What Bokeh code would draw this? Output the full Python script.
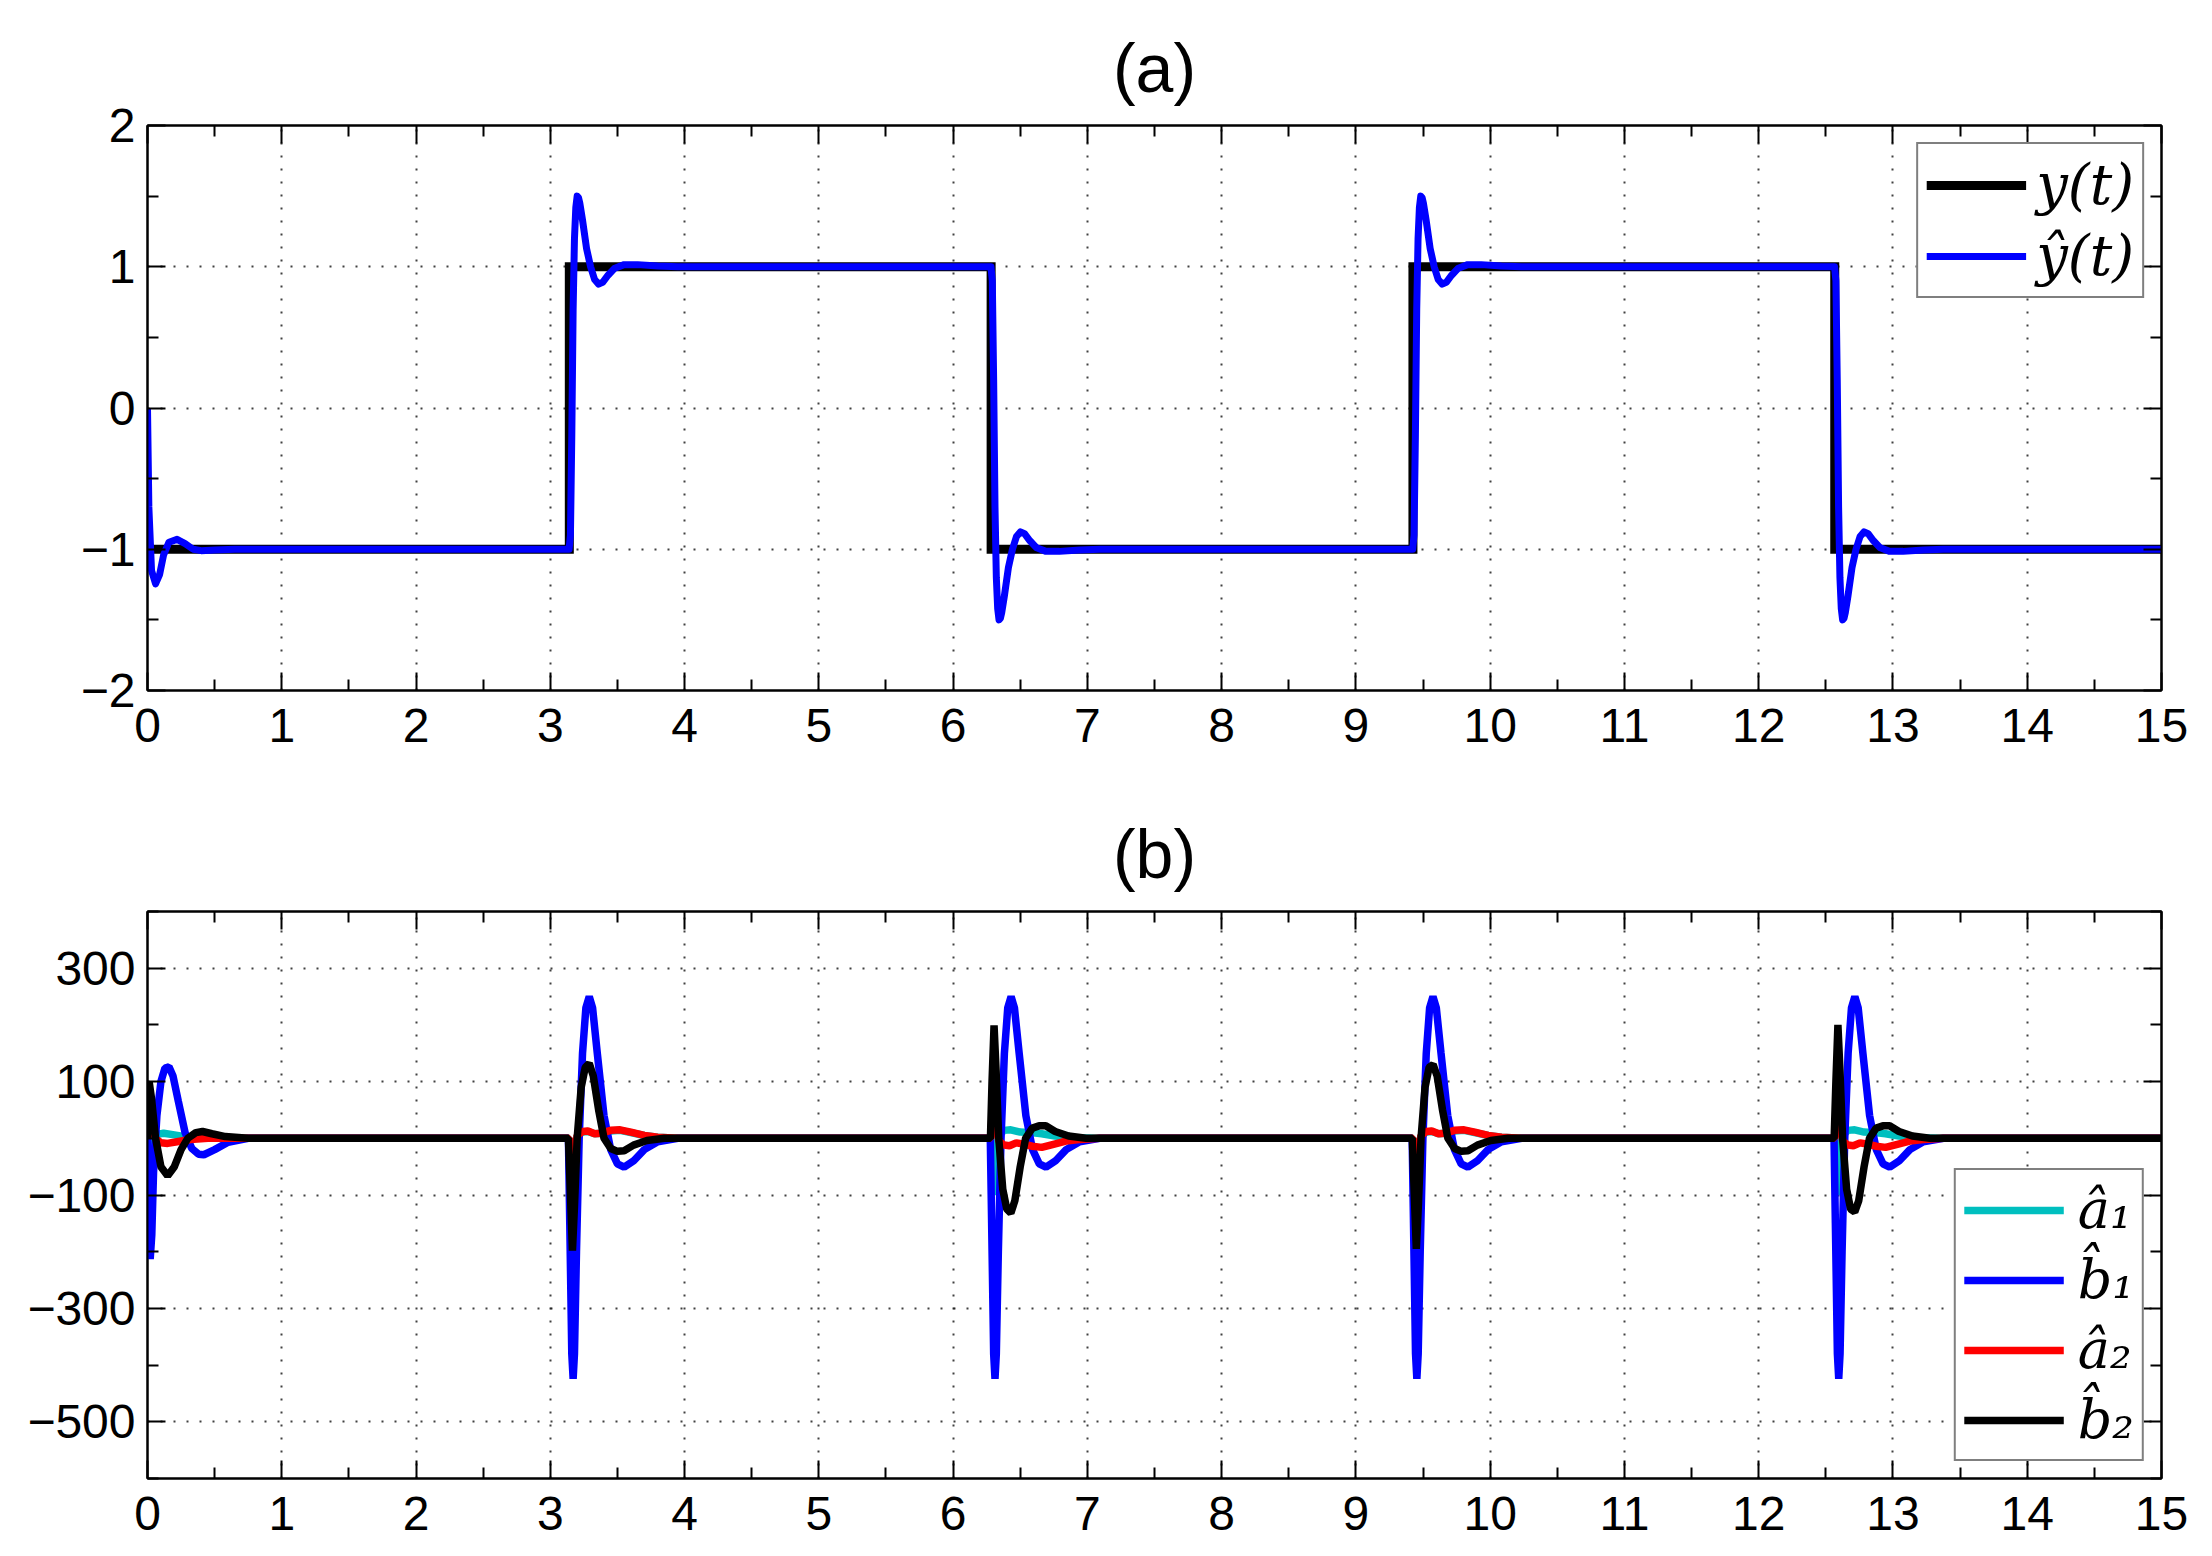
from bokeh.plotting import figure
from bokeh.models import FixedTicker, LinearAxis, Legend, LegendItem, Range1d, CustomLabelingPolicy
from bokeh.layouts import column
from bokeh.embed import file_html
from bokeh.resources import INLINE

# ---------------- data ----------------
# (a) output y(t) (square wave) and estimate y_hat(t)
y_t = [0, 3.1416, 3.1416, 6.2832, 6.2832, 9.4248, 9.4248, 12.5664, 12.5664, 15]
y_v = [-1, -1, 1, 1, -1, -1, 1, 1, -1, -1]

yhat_t = [0, 0.01, 0.03, 0.06, 0.09, 0.12, 0.16, 0.22, 0.28, 0.34, 0.40, 0.50, 0.65,
          3.14, 3.15, 3.16, 3.17, 3.18, 3.19, 3.20, 3.21, 3.22, 3.24, 3.27, 3.30, 3.33, 3.36, 3.39, 3.43, 3.48, 3.55, 3.65, 3.80, 3.95,
          6.282, 6.292, 6.302, 6.312, 6.322, 6.332, 6.342, 6.352, 6.362, 6.382, 6.412, 6.442, 6.472, 6.502, 6.532, 6.572, 6.622, 6.692, 6.792, 6.942, 7.092,
          9.423, 9.433, 9.443, 9.453, 9.463, 9.473, 9.483, 9.493, 9.503, 9.523, 9.553, 9.583, 9.613, 9.643, 9.673, 9.713, 9.763, 9.833, 9.933, 10.083, 10.233,
          12.565, 12.575, 12.585, 12.595, 12.605, 12.615, 12.625, 12.635, 12.645, 12.665, 12.695, 12.725, 12.755, 12.785, 12.815, 12.855, 12.905, 12.975, 13.075, 13.225, 13.375,
          15]
yhat_v = [0, -0.7, -1.15, -1.245, -1.18, -1.04, -0.95, -0.93, -0.96, -1.0, -1.01, -1.005, -1.0,
          -1.0, -0.9, -0.2, 0.7, 1.2, 1.42, 1.5, 1.49, 1.45, 1.33, 1.13, 1.0, 0.91, 0.877, 0.89, 0.94, 0.99, 1.015, 1.015, 1.005, 1.0,
          1.0, 0.9, 0.2, -0.7, -1.2, -1.42, -1.5, -1.49, -1.45, -1.33, -1.13, -1.0, -0.91, -0.877, -0.89, -0.94, -0.99, -1.015, -1.015, -1.005, -1.0,
          -1.0, -0.9, -0.2, 0.7, 1.2, 1.42, 1.5, 1.49, 1.45, 1.33, 1.13, 1.0, 0.91, 0.877, 0.89, 0.94, 0.99, 1.015, 1.015, 1.005, 1.0,
          1.0, 0.9, 0.2, -0.7, -1.2, -1.42, -1.5, -1.49, -1.45, -1.33, -1.13, -1.0, -0.91, -0.877, -0.89, -0.94, -0.99, -1.015, -1.015, -1.005, -1.0,
          -1.0]

# (b) parameter estimates
a1_t = [0, 0.005, 0.015, 0.03, 0.06, 0.12, 0.20, 0.30, 0.45,
        3.14, 3.152, 3.165, 3.18, 3.20, 3.24, 3.28, 3.33, 3.38, 3.45, 3.52, 3.60, 3.70, 3.80, 3.95,
        6.28, 6.292, 6.305, 6.32, 6.34, 6.38, 6.43, 6.50, 6.58, 6.66, 6.76, 6.90, 7.05,
        9.425, 9.437, 9.45, 9.465, 9.485, 9.525, 9.565, 9.615, 9.665, 9.735, 9.805, 9.885, 9.985, 10.085, 10.235,
        12.565, 12.577, 12.59, 12.605, 12.625, 12.665, 12.715, 12.785, 12.865, 12.945, 13.045, 13.185, 13.335,
        15]
a1_v = [0, -30, -45, -10, 6, 9, 6, 2, 0,
        0, -40, -70, -25, 4, 11, 12, 8, 9, 13, 14, 10, 5, 2, 0,
        0, -60, -100, -40, 5, 14, 15, 11, 10, 8, 4, 1, 0,
        0, -40, -70, -25, 4, 11, 12, 8, 9, 13, 14, 10, 5, 2, 0,
        0, -60, -100, -40, 5, 14, 15, 11, 10, 8, 4, 1, 0,
        0]

b1_t = [0, 0.008, 0.02, 0.032, 0.045, 0.07, 0.10, 0.13, 0.16, 0.19, 0.23, 0.28, 0.33, 0.38, 0.42, 0.50, 0.60, 0.75,
        3.135, 3.145, 3.16, 3.17, 3.18, 3.195, 3.215, 3.24, 3.265, 3.29, 3.315, 3.35, 3.40, 3.45, 3.50, 3.55, 3.62, 3.70, 3.80, 3.95,
        6.277, 6.287, 6.302, 6.312, 6.322, 6.337, 6.357, 6.382, 6.407, 6.432, 6.457, 6.492, 6.542, 6.592, 6.642, 6.692, 6.762, 6.842, 6.942, 7.092,
        9.419, 9.429, 9.444, 9.454, 9.464, 9.479, 9.499, 9.524, 9.549, 9.574, 9.599, 9.634, 9.684, 9.734, 9.784, 9.834, 9.904, 9.984, 10.084, 10.234,
        12.561, 12.571, 12.586, 12.596, 12.606, 12.621, 12.641, 12.666, 12.691, 12.716, 12.741, 12.776, 12.826, 12.876, 12.926, 12.976, 13.046, 13.126, 13.226, 13.376,
        15]
b1_v = [0, -130, -213, -170, -60, 40, 100, 124, 126, 110, 65, 10, -18, -28, -29, -20, -7, 0,
        0, -150, -380, -424, -380, -200, 0, 150, 230, 250, 230, 150, 40, -20, -45, -51, -40, -20, -6, 0,
        0, -150, -380, -424, -380, -200, 0, 150, 230, 250, 230, 150, 40, -20, -45, -51, -40, -20, -6, 0,
        0, -150, -380, -424, -380, -200, 0, 150, 230, 250, 230, 150, 40, -20, -45, -51, -40, -20, -6, 0,
        0, -150, -380, -424, -380, -200, 0, 150, 230, 250, 230, 150, 40, -20, -45, -51, -40, -20, -6, 0,
        0]

a2_t = [0, 0.005, 0.012, 0.03, 0.06, 0.10, 0.15, 0.22, 0.32, 0.45,
        3.14, 3.152, 3.165, 3.18, 3.20, 3.24, 3.28, 3.33, 3.38, 3.45, 3.52, 3.60, 3.70, 3.80, 3.95,
        6.28, 6.292, 6.305, 6.32, 6.34, 6.38, 6.42, 6.47, 6.52, 6.59, 6.66, 6.74, 6.84, 6.94, 7.09,
        9.425, 9.437, 9.45, 9.465, 9.485, 9.525, 9.565, 9.615, 9.665, 9.735, 9.805, 9.885, 9.985, 10.085, 10.235,
        12.565, 12.577, 12.59, 12.605, 12.625, 12.665, 12.705, 12.755, 12.805, 12.875, 12.945, 13.025, 13.125, 13.225, 13.375,
        15]
a2_v = [0, 40, 63, 30, 0, -8, -9, -6, -2, 0,
        0, -50, -80, -30, 5, 12, 13, 8, 9, 14, 15, 11, 5, 2, 0,
        0, 50, 100, 40, -5, -12, -13, -8, -10, -14, -16, -11, -5, -2, 0,
        0, -50, -80, -30, 5, 12, 13, 8, 9, 14, 15, 11, 5, 2, 0,
        0, 50, 100, 40, -5, -12, -13, -8, -10, -14, -16, -11, -5, -2, 0,
        0]

b2_t = [0, 0.005, 0.012, 0.03, 0.06, 0.10, 0.15, 0.20, 0.25, 0.30, 0.36, 0.41, 0.48, 0.58, 0.75,
        3.135, 3.15, 3.165, 3.18, 3.20, 3.23, 3.26, 3.29, 3.32, 3.36, 3.40, 3.45, 3.50, 3.55, 3.62, 3.72, 3.85,
        6.278, 6.29, 6.305, 6.32, 6.34, 6.37, 6.40, 6.43, 6.46, 6.50, 6.54, 6.59, 6.64, 6.69, 6.76, 6.86, 6.99,
        9.42, 9.435, 9.45, 9.465, 9.485, 9.515, 9.545, 9.575, 9.605, 9.645, 9.685, 9.735, 9.785, 9.835, 9.905, 10.005, 10.135,
        12.562, 12.575, 12.59, 12.605, 12.625, 12.655, 12.685, 12.715, 12.745, 12.785, 12.825, 12.875, 12.925, 12.975, 13.045, 13.145, 13.275,
        15]
b2_v = [0, 60, 100, 70, 0, -50, -66, -50, -20, 0, 10, 12, 8, 3, 0,
        0, -100, -198, -120, 0, 90, 125, 132, 110, 50, 0, -18, -23, -22, -12, -4, 0,
        0, 100, 199, 120, 0, -90, -125, -132, -110, -50, 0, 18, 22, 22, 12, 4, 0,
        0, -100, -195, -120, 0, 90, 125, 130, 110, 50, 0, -18, -23, -22, -12, -4, 0,
        0, 100, 200, 120, 0, -90, -125, -130, -110, -50, 0, 18, 22, 22, 12, 4, 0,
        0]

x_major = list(range(0, 16))
x_minor = [i + 0.5 for i in range(0, 15)]
ya_major = [-2, -1, 0, 1, 2]
ya_minor = [-1.5, -0.5, 0.5, 1.5]
ya_labels = {-2: "\u22122", -1: "\u22121", 0: "0", 1: "1", 2: "2"}
yb_major = [-500, -300, -100, 100, 300]
yb_minor = [-600, -400, -200, 0, 200, 400]
yb_labels = {-500: "\u2212500", -300: "\u2212300", -100: "\u2212100", 100: "100", 300: "300"}
x_labels = {i: str(i) for i in x_major}

FONT = "Liberation Sans"
TICK_FS = "48px"


def make_fig(title, yrange, ymaj, ymin, ylabels, frame_h, top, bottom):
    p = figure(frame_width=2014, frame_height=frame_h,
               x_range=Range1d(0, 15), y_range=Range1d(*yrange),
               output_backend="svg", toolbar_location=None,
               min_border_left=147, min_border_right=43,
               min_border_top=top, min_border_bottom=bottom)
    p.background_fill_color = "white"
    p.border_fill_color = "white"
    p.outline_line_color = "black"
    p.outline_line_width = 2
    p.title.text = title
    p.title.align = "center"
    p.title.text_font = FONT
    p.title.text_font_size = "68px"
    p.title.text_font_style = "normal"
    p.title.text_color = "black"
    p.title.standoff = 32

    xt = FixedTicker(ticks=x_major, minor_ticks=x_minor)
    yt = FixedTicker(ticks=ymaj, minor_ticks=ymin)

    right_ax = LinearAxis()
    top_ax = LinearAxis()
    p.add_layout(right_ax, "right")
    p.add_layout(top_ax, "above")

    for ax in p.xaxis + p.yaxis:
        is_x = ax in p.xaxis
        ax.ticker = xt if is_x else yt
        ax.axis_line_width = 2
        ax.major_tick_in = 18
        ax.major_tick_out = 0
        ax.minor_tick_in = 11
        ax.minor_tick_out = 0
        ax.major_tick_line_width = 2
        ax.minor_tick_line_width = 2
        ax.major_label_text_font = FONT
        ax.major_label_text_font_size = TICK_FS
        ax.major_label_text_color = "black"
        ax.major_label_overrides = x_labels if is_x else ylabels
        ax.major_label_standoff = 18 if is_x else 12

    # mirrored tick axes (box) without labels
    for ax in (right_ax, top_ax):
        ax.major_label_policy = CustomLabelingPolicy(code="return new Set()")
        ax.major_label_text_font_size = "1px"
        ax.major_label_standoff = 0

    p.xgrid.ticker = xt
    p.ygrid.ticker = yt
    for g in (p.xgrid, p.ygrid):
        g.grid_line_color = "black"
        g.grid_line_alpha = 0.75
        g.grid_line_width = 2
        g.grid_line_dash = "2 11"
    return p


# ---------------- (a) ----------------
p1 = make_fig("(a)", (-2, 2), ya_major, ya_minor, ya_labels, 565, 125, 90)
r_y = p1.line(y_t, y_v, line_color="black", line_width=9, line_join="miter")
r_yh = p1.line(yhat_t, yhat_v, line_color="#0000ff", line_width=7, line_join="round")
leg1 = Legend(items=[LegendItem(label="y(t)", renderers=[r_y]),
                     LegendItem(label="\u0177(t)", renderers=[r_yh])],
              location="top_right")
p1.add_layout(leg1)

# ---------------- (b) ----------------
p2 = make_fig("(b)", (-600, 400), yb_major, yb_minor, yb_labels, 567, 131, 70)
r_a1 = p2.line(a1_t, a1_v, line_color="#00bfbf", line_width=7.5)
r_b1 = p2.line(b1_t, b1_v, line_color="#0000ff", line_width=7.5)
r_a2 = p2.line(a2_t, a2_v, line_color="#ff0000", line_width=7.5)
r_b2 = p2.line(b2_t, b2_v, line_color="black", line_width=7.5)
leg2 = Legend(items=[LegendItem(label="\u00e2\u2081", renderers=[r_a1]),
                     LegendItem(label="b\u0302\u2081", renderers=[r_b1]),
                     LegendItem(label="\u00e2\u2082", renderers=[r_a2]),
                     LegendItem(label="b\u0302\u2082", renderers=[r_b2])],
              location="bottom_right")
p2.add_layout(leg2)

for leg in (leg1, leg2):
    leg.border_line_color = "black"
    leg.border_line_width = 2
    leg.background_fill_color = "white"
    leg.background_fill_alpha = 1.0
    leg.label_text_font = "DejaVu Serif"
    leg.label_text_font_style = "italic"
    leg.label_text_color = "black"
    leg.glyph_width = 100
    leg.glyph_height = 20
    leg.label_height = 20
    leg.margin = 17
    leg.padding = 8

leg1.label_text_font_size = "56px"
leg1.label_standoff = 10
leg1.spacing = 6
leg2.label_text_font_size = "54px"
leg2.label_standoff = 14
leg2.spacing = 7

layout = column(p1, p2)
open("out.html", "w").write(file_html(layout, INLINE))
